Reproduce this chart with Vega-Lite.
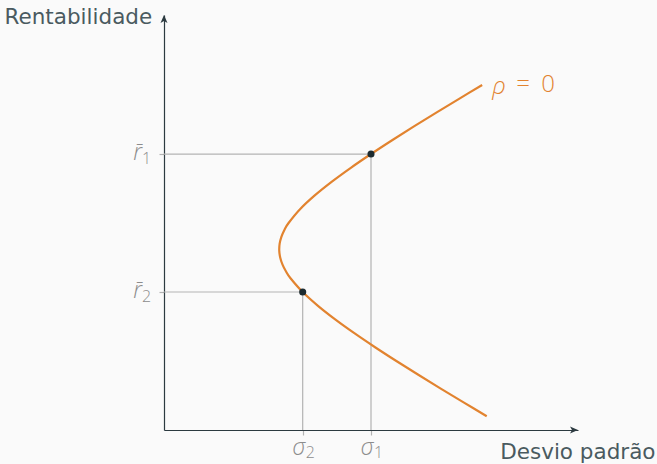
{
  "$schema": "https://vega.github.io/schema/vega-lite/v6.json",
  "width": 414,
  "height": 415,
  "autosize": "none",
  "padding": {"left": 164, "top": 15, "right": 79, "bottom": 34},
  "background": "#fafafa",
  "config": {
    "view": {"stroke": null},
    "font": "Open Sans",
    "axis": {
      "grid": false,
      "labels": false,
      "domainColor": "#2c3a40",
      "domainWidth": 1.2,
      "tickColor": "#b3b3b3",
      "tickWidth": 1.2,
      "tickSize": 5,
      "titleFont": "DejaVu Sans",
      "titleFontWeight": "normal",
      "titleFontSize": 21.5,
      "titleColor": "#4a5a60"
    }
  },
  "datasets": {
    "frontier": [
      {"w": -0.9, "sigma": 15.590, "ret": 0.665},
      {"w": -0.8, "sigma": 14.472, "ret": 1.330},
      {"w": -0.7, "sigma": 13.369, "ret": 1.995},
      {"w": -0.6, "sigma": 12.285, "ret": 2.660},
      {"w": -0.5, "sigma": 11.225, "ret": 3.325},
      {"w": -0.4, "sigma": 10.197, "ret": 3.990},
      {"w": -0.3, "sigma": 9.212, "ret": 4.655},
      {"w": -0.2, "sigma": 8.285, "ret": 5.320},
      {"w": -0.1, "sigma": 7.438, "ret": 5.985},
      {"w": 0.0, "sigma": 6.700, "ret": 6.650},
      {"w": 0.1, "sigma": 6.112, "ret": 7.315},
      {"w": 0.15, "sigma": 5.889, "ret": 7.648},
      {"w": 0.2, "sigma": 5.721, "ret": 7.980},
      {"w": 0.25, "sigma": 5.613, "ret": 8.313},
      {"w": 0.3, "sigma": 5.568, "ret": 8.645},
      {"w": 0.35, "sigma": 5.587, "ret": 8.978},
      {"w": 0.4, "sigma": 5.671, "ret": 9.310},
      {"w": 0.45, "sigma": 5.816, "ret": 9.643},
      {"w": 0.5, "sigma": 6.018, "ret": 9.975},
      {"w": 0.6, "sigma": 6.571, "ret": 10.640},
      {"w": 0.7, "sigma": 7.283, "ret": 11.305},
      {"w": 0.8, "sigma": 8.112, "ret": 11.970},
      {"w": 0.9, "sigma": 9.025, "ret": 12.635},
      {"w": 1.0, "sigma": 10.000, "ret": 13.300},
      {"w": 1.1, "sigma": 11.020, "ret": 13.965},
      {"w": 1.2, "sigma": 12.075, "ret": 14.630},
      {"w": 1.3, "sigma": 13.155, "ret": 15.295},
      {"w": 1.4, "sigma": 14.254, "ret": 15.960},
      {"w": 1.5, "sigma": 15.370, "ret": 16.625}
    ],
    "assets": [
      {"asset": "1", "sigma": 10.0, "ret": 13.3},
      {"asset": "2", "sigma": 6.7, "ret": 6.65}
    ],
    "origin": [{"sigma": 0, "ret": 0, "sigmaMax": 20, "retMax": 20}]
  },
  "layer": [
    {
      "data": {"name": "assets"},
      "mark": {"type": "rule", "color": "#b3b3b3", "strokeWidth": 1.2},
      "encoding": {
        "x": {
          "field": "sigma",
          "type": "quantitative",
          "scale": {"domain": [0, 20], "nice": false, "zero": false},
          "axis": {
            "values": [6.7, 10],
            "title": "Desvio padrão",
            "titleAlign": "right",
            "titleBaseline": "middle",
            "titleX": 491,
            "titleY": 22
          }
        },
        "x2": {"datum": 0},
        "y": {
          "field": "ret",
          "type": "quantitative",
          "scale": {"domain": [0, 20], "nice": false, "zero": false},
          "axis": {
            "values": [6.65, 13.3],
            "title": "Rentabilidade",
            "titleAngle": 0,
            "titleAlign": "left",
            "titleBaseline": "middle",
            "titleX": -160,
            "titleY": 2
          }
        }
      }
    },
    {
      "data": {"name": "assets"},
      "mark": {"type": "rule", "color": "#b3b3b3", "strokeWidth": 1.2},
      "encoding": {
        "x": {"field": "sigma", "type": "quantitative"},
        "y": {"field": "ret", "type": "quantitative"},
        "y2": {"datum": 0}
      }
    },
    {
      "data": {"name": "origin"},
      "mark": {
        "type": "point",
        "filled": true,
        "opacity": 1,
        "color": "#2c3a40",
        "size": 400,
        "shape": "M0,0 L-0.8,-0.35 L-0.6,0 L-0.8,0.35 Z"
      },
      "encoding": {
        "x": {"field": "sigmaMax", "type": "quantitative"},
        "y": {"field": "ret", "type": "quantitative"}
      }
    },
    {
      "data": {"name": "origin"},
      "mark": {
        "type": "point",
        "filled": true,
        "opacity": 1,
        "color": "#2c3a40",
        "size": 400,
        "shape": "M0,0 L0.35,0.8 L0,0.6 L-0.35,0.8 Z"
      },
      "encoding": {
        "x": {"field": "sigma", "type": "quantitative"},
        "y": {"field": "retMax", "type": "quantitative"}
      }
    },
    {
      "data": {"name": "frontier"},
      "mark": {"type": "line", "color": "#e2832f", "strokeWidth": 2.2, "interpolate": "cardinal"},
      "encoding": {
        "x": {"field": "sigma", "type": "quantitative"},
        "y": {"field": "ret", "type": "quantitative"},
        "order": {"field": "w", "type": "quantitative"}
      }
    },
    {
      "data": {"name": "assets"},
      "mark": {"type": "circle", "color": "#1d2b30", "size": 50, "opacity": 1},
      "encoding": {
        "x": {"field": "sigma", "type": "quantitative"},
        "y": {"field": "ret", "type": "quantitative"}
      }
    },
    {
      "data": {"name": "assets"},
      "mark": {
        "type": "text",
        "text": "r̄",
        "align": "right",
        "baseline": "middle",
        "dx": -22,
        "dy": -1,
        "fontSize": 23,
        "fontStyle": "italic",
        "fontWeight": 300,
        "color": "#8c8c8c"
      },
      "encoding": {
        "x": {"datum": 0, "type": "quantitative"},
        "y": {"field": "ret", "type": "quantitative"}
      }
    },
    {
      "data": {"name": "assets"},
      "mark": {
        "type": "text",
        "align": "left",
        "baseline": "middle",
        "dx": -22,
        "dy": 5,
        "fontSize": 16,
        "fontWeight": 300,
        "color": "#8c8c8c"
      },
      "encoding": {
        "x": {"datum": 0, "type": "quantitative"},
        "y": {"field": "ret", "type": "quantitative"},
        "text": {"field": "asset"}
      }
    },
    {
      "data": {"name": "assets"},
      "mark": {
        "type": "text",
        "text": "σ",
        "align": "center",
        "baseline": "middle",
        "dx": -4,
        "dy": 18,
        "fontSize": 23,
        "fontStyle": "italic",
        "fontWeight": 300,
        "color": "#8c8c8c"
      },
      "encoding": {
        "x": {"field": "sigma", "type": "quantitative"},
        "y": {"datum": 0, "type": "quantitative"}
      }
    },
    {
      "data": {"name": "assets"},
      "mark": {
        "type": "text",
        "align": "left",
        "baseline": "middle",
        "dx": 3,
        "dy": 23,
        "fontSize": 16,
        "fontWeight": 300,
        "color": "#8c8c8c"
      },
      "encoding": {
        "x": {"field": "sigma", "type": "quantitative"},
        "y": {"datum": 0, "type": "quantitative"},
        "text": {"field": "asset"}
      }
    },
    {
      "data": {"name": "frontier"},
      "transform": [{"filter": "datum.w == 1.5"}],
      "mark": {
        "type": "text",
        "text": "ρ",
        "align": "left",
        "baseline": "middle",
        "dx": 10,
        "dy": 2,
        "fontSize": 24,
        "fontStyle": "italic",
        "fontWeight": 300,
        "color": "#e2832f"
      },
      "encoding": {
        "x": {"field": "sigma", "type": "quantitative"},
        "y": {"field": "ret", "type": "quantitative"}
      }
    },
    {
      "data": {"name": "frontier"},
      "transform": [{"filter": "datum.w == 1.5"}],
      "mark": {
        "type": "text",
        "text": "=",
        "align": "left",
        "baseline": "middle",
        "dx": 34,
        "dy": 0,
        "fontSize": 24,
        "fontWeight": 300,
        "color": "#e2832f"
      },
      "encoding": {
        "x": {"field": "sigma", "type": "quantitative"},
        "y": {"field": "ret", "type": "quantitative"}
      }
    },
    {
      "data": {"name": "frontier"},
      "transform": [{"filter": "datum.w == 1.5"}],
      "mark": {
        "type": "text",
        "text": "0",
        "align": "left",
        "baseline": "middle",
        "dx": 59,
        "dy": 0,
        "fontSize": 24,
        "fontWeight": 300,
        "color": "#e2832f"
      },
      "encoding": {
        "x": {"field": "sigma", "type": "quantitative"},
        "y": {"field": "ret", "type": "quantitative"}
      }
    }
  ]
}
